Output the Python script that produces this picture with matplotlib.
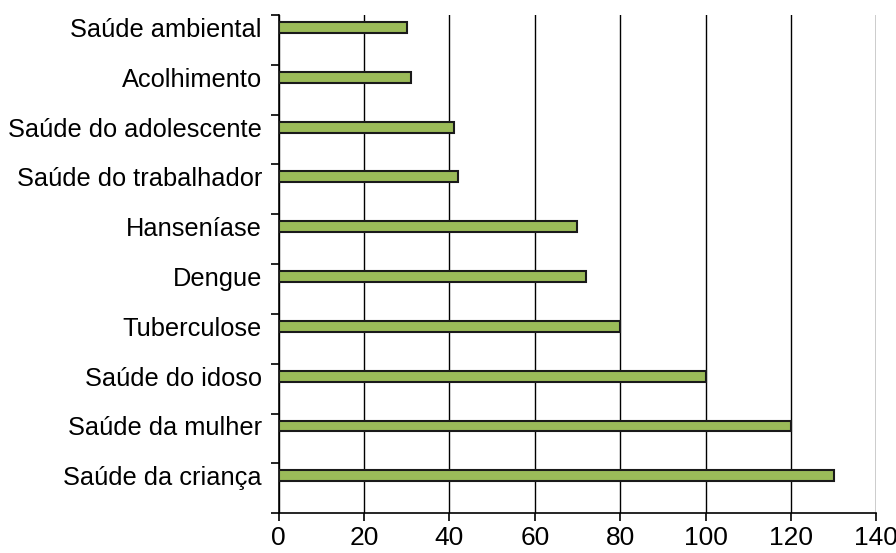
import numpy as np
import matplotlib.pyplot as plt

plt.rcParams['font.family'] = ['Liberation Sans', 'DejaVu Sans']

# categories from bottom to top
categorias = ['Saúde da criança', 'Saúde da mulher', 'Saúde do idoso', 'Tuberculose',
              'Dengue', 'Hanseníase', 'Saúde do trabalhador', 'Saúde do adolescente',
              'Acolhimento', 'Saúde ambiental']
valores = [130, 120, 100, 80, 72, 70, 42, 41, 31, 30]
xticks = [0, 20, 40, 60, 80, 100, 120, 140]

fig = plt.figure(figsize=(8.96, 5.53), dpi=100)
ax = fig.add_axes([0.311, 0.072, 0.667, 0.901])

y = np.arange(len(categorias))
off = 0.25
ax.barh(y + off, valores, height=0.22, color='#9BBB59', edgecolor='#1a1a1a',
        linewidth=1.5, zorder=3)

ax.set_xlim(0, 140)
ax.set_ylim(-0.5, len(categorias) - 0.5)
ax.set_xticks(xticks)
ax.set_xticklabels([str(v) for v in xticks], fontsize=19)
ax.xaxis.grid(True, color='black', linewidth=1)

ax.set_yticks(np.arange(len(categorias) + 1) - 0.5)
ax.set_yticklabels([])
ax.set_yticks(y + off, minor=True)
ax.set_yticklabels(categorias, minor=True, fontsize=18.3)
ax.tick_params(axis='y', which='minor', length=0, pad=12)
ax.tick_params(axis='y', which='major', length=6, width=1.2)
ax.tick_params(axis='x', length=6, width=1.2, pad=3.5)

ax.spines['top'].set_visible(False)
ax.spines['right'].set_visible(False)
ax.spines['left'].set_linewidth(1.2)
ax.spines['bottom'].set_linewidth(1.2)

fig.savefig('out.png', dpi=100)
